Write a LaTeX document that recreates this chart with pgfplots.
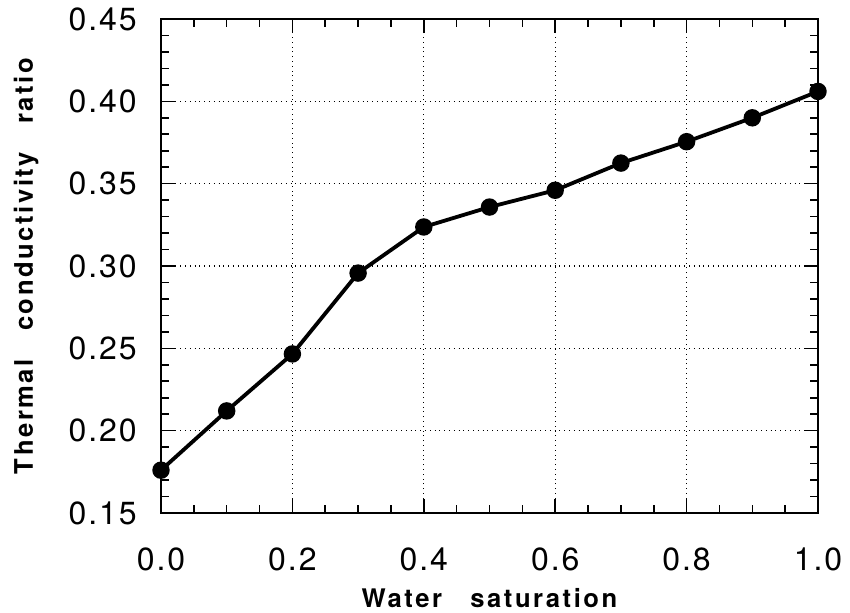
\documentclass[border=0pt]{standalone}
\usepackage{fontspec}
\setmainfont{TeX Gyre Heros}
\newfontfamily\tickfont[LetterSpace=6]{TeX Gyre Heros}
\newfontfamily\labfont[LetterSpace=10]{TeX Gyre Heros}
\usepackage{pgfplots}
\pgfplotsset{compat=1.18}
\begin{document}
\begin{tikzpicture}
\useasboundingbox (-80.5pt,-49.5pt) rectangle (344.5pt,256.5pt);
\begin{axis}[at={(0,0)},anchor=south west,scale only axis,
  width=328.5pt,height=247pt,
  xmin=0,xmax=1,ymin=0.15,ymax=0.45,
  xtick={0,0.2,...,1.0},ytick={0.15,0.20,...,0.45},
  minor x tick num=3,minor y tick num=4,
  tick align=inside,
  major tick length=7pt,minor tick length=4pt,
  every tick/.style={black,line width=0.8pt},
  axis line style={line width=1pt},
  grid=major,grid style={black,dotted,line width=0.6pt},
  /pgf/number format/assume math mode=true,
  x tick label style={/pgf/number format/.cd,fixed,fixed zerofill,precision=1,/tikz/.cd},
  y tick label style={/pgf/number format/.cd,fixed,fixed zerofill,precision=2,/tikz/.cd},
  tick label style={font=\fontsize{16}{18}\tickfont,inner sep=0pt},
  xticklabel style={anchor=north,yshift=-17pt},
  yticklabel style={anchor=east,xshift=-12pt},
  xlabel={\fontsize{12.8}{14}\labfont\bfseries Water\hspace{1.1em}saturation},
  ylabel={\fontsize{12.8}{14}\labfont\bfseries Thermal\hspace{1.1em}conductivity\hspace{1.1em}ratio},
  xlabel style={at={(axis description cs:0.5,0)},anchor=base,yshift=-47pt},
  ylabel style={at={(axis description cs:0,0.5)},anchor=base,rotate=0,yshift=64pt}]
\addplot[black,line width=1.9pt,mark=*,mark size=3.4pt] coordinates {
(0.0,0.176) (0.1,0.212) (0.2,0.2466) (0.3,0.2957) (0.4,0.3237) (0.5,0.3358)
(0.6,0.346) (0.7,0.3625) (0.8,0.3755) (0.9,0.390) (1.0,0.406)};
\end{axis}
\end{tikzpicture}
\end{document}
